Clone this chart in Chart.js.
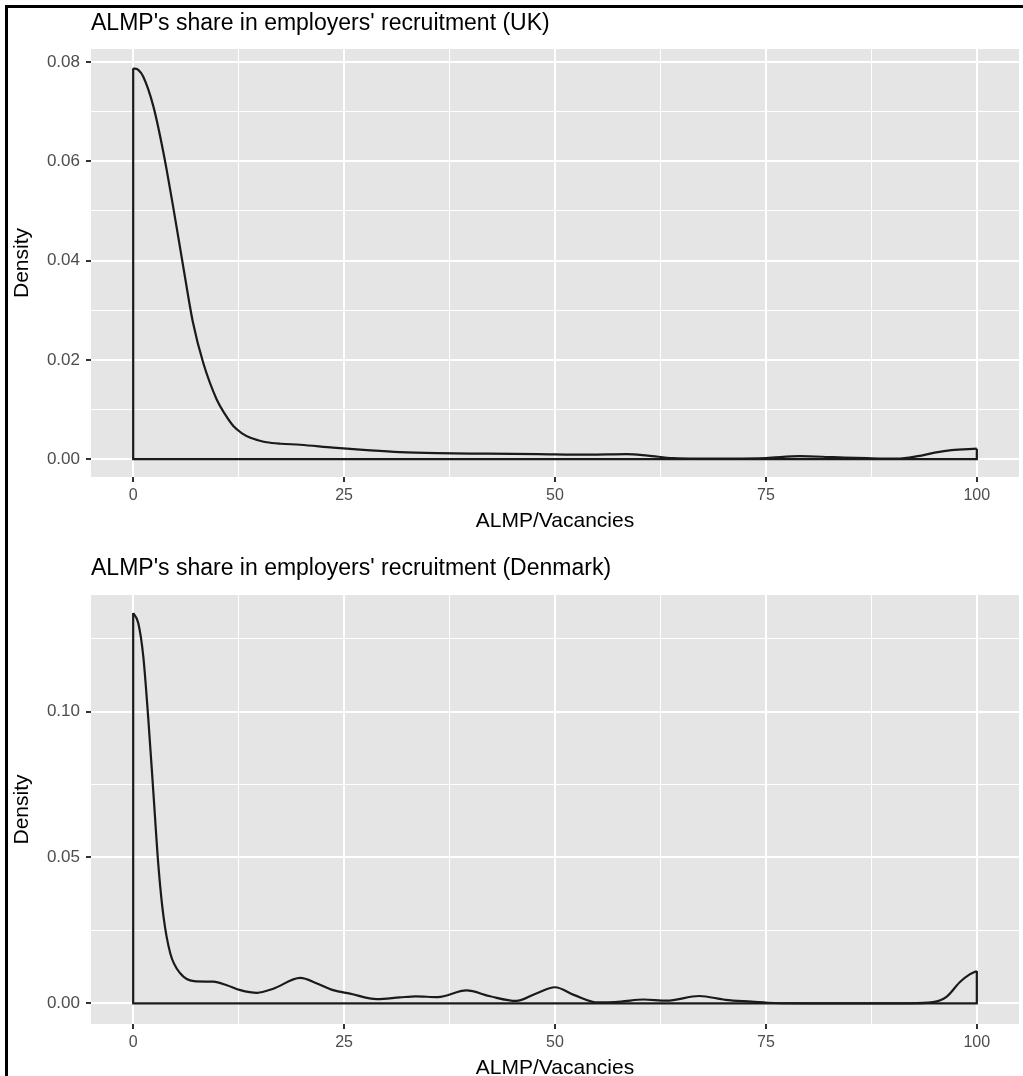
<!DOCTYPE html>
<html lang="en">
<head>
  <meta charset="UTF-8">
  <title>ALMP's share in employers' recruitment</title>
  <script src="https://cdn.jsdelivr.net/npm/chart.js"></script>
  <style>
    html, body { margin: 0; padding: 0; background: #fff; overflow: hidden; }
    body { width: 1023px; height: 1076px; position: relative; font-family: "Liberation Sans", Arial, sans-serif; }
    .frame { position: absolute; left: 5px; top: 5px; width: 1100px; height: 1100px;
             border-left: 3px solid #000; border-top: 3px solid #000; pointer-events: none; }
    .title { position: absolute; left: 91px; font-size: 23px; line-height: 23px; color: #000; white-space: nowrap; }
    .panel { position: absolute; left: 0; width: 1023px; }
  </style>
</head>
<body>
  <div class="panel" style="top: 0; height: 540px;"><canvas id="ukChart"></canvas></div>
  <div class="panel" style="top: 540px; height: 560px;"><canvas id="dkChart"></canvas></div>
  <div class="title" style="top: 11px;">ALMP's share in employers' recruitment (UK)</div>
  <div class="title" style="top: 556px;">ALMP's share in employers' recruitment (Denmark)</div>
  <div class="frame"></div>

  <script>
    // density estimates (x = ALMP/Vacancies)
    const ukX = [0, 0.6, 1.2, 2.4, 3.6, 4.8, 6.0, 7.1, 8.3, 9.9, 10.9, 11.9, 12.9, 13.9, 14.8, 15.8, 17.5, 19.8,
      23.7, 27.7, 31.6, 36, 42, 48, 54, 58.5, 61, 64, 67, 71, 75, 79, 83, 87, 90.5, 93, 95, 97, 100];
    const ukDensity = [0.0787, 0.0784, 0.0770, 0.0710, 0.0616, 0.0502, 0.0381, 0.0274, 0.0194, 0.0120, 0.0090,
      0.0066, 0.0052, 0.0043, 0.0038, 0.0034, 0.0031, 0.0029, 0.0023, 0.0018, 0.0014, 0.0012, 0.0011, 0.0010,
      0.0009, 0.0010, 0.0007, 0.0002, 0.0001, 0.0001, 0.0002, 0.0006, 0.0004, 0.0002, 0.0001, 0.0006, 0.0013,
      0.0018, 0.0021];

    const dkX = [0, 0.6, 1.2, 1.8, 2.4, 3.0, 3.6, 4.4, 5.6, 7.2, 9.5, 11.1, 12.7, 14.7, 16.6, 19.8, 21.8, 23.7,
      25.7, 28.9, 31.6, 33.5, 36.1, 39.5, 42.3, 45.4, 47.7, 50, 52.3, 55.1, 57.8, 60.5, 63.2, 67.1, 70.2, 73.3,
      76, 80, 86, 92, 94.8, 96.4, 98, 99.2, 100];
    const dkDensity = [0.1338, 0.1304, 0.1189, 0.0972, 0.0720, 0.0468, 0.0296, 0.0171, 0.0102, 0.0076, 0.0074,
      0.0062, 0.0045, 0.0036, 0.0050, 0.0087, 0.0068, 0.0045, 0.0033, 0.0014, 0.0020, 0.0024, 0.0021, 0.0044,
      0.0024, 0.0008, 0.0033, 0.0055, 0.0028, 0.0003, 0.0006, 0.0013, 0.0009, 0.0025, 0.0012, 0.0006, 0.0001,
      0, 0, 0, 0.0004, 0.0022, 0.0073, 0.0100, 0.0111];

    // axis ticks
    const xMajor = [0, 25, 50, 75, 100];
    const xMinor = [12.5, 37.5, 62.5, 87.5];
    const ukYMajor = [0, 0.02, 0.04, 0.06, 0.08];
    const ukYMinor = [0.01, 0.03, 0.05, 0.07];
    const dkYMajor = [0, 0.05, 0.10];
    const dkYMinor = [0.025, 0.075, 0.125];

    Chart.defaults.font.family = '"Liberation Sans", Arial, sans-serif';

    const isIn = (list, v) => list.some(m => Math.abs(m - v) < 1e-9);

    // grey ggplot panel behind the grid
    const panelBg = {
      id: 'panelBg',
      beforeDraw(chart) {
        const a = chart.chartArea;
        const ctx = chart.ctx;
        ctx.save();
        ctx.fillStyle = '#e5e5e5';
        ctx.fillRect(a.left, a.top, a.right - a.left, a.bottom - a.top);
        ctx.restore();
      }
    };

    function densityChart(id, xs, ys, yMajor, yMinor, yMin, yMax, opt) {
      const curve = xs.map((x, i) => ({ x: x, y: ys[i] }));
      const last = xs.length - 1;
      // closing outline of the density polygon (vertical sides + baseline)
      const outline = [
        { x: xs[0], y: ys[0] }, { x: xs[0], y: 0 },
        { x: xs[last], y: 0 }, { x: xs[last], y: ys[last] }
      ];
      const xTicks = xMajor.concat(xMinor).sort((a, b) => a - b);
      const yTicks = yMajor.concat(yMinor).sort((a, b) => a - b);

      return new Chart(document.getElementById(id), {
        type: 'line',
        data: {
          datasets: [
            { data: curve, borderColor: '#1a1a1a', borderWidth: 2.2, pointRadius: 0,
              cubicInterpolationMode: 'monotone', fill: false },
            { data: outline, borderColor: '#1a1a1a', borderWidth: 2.2, pointRadius: 0,
              tension: 0, fill: false, borderJoinStyle: 'miter' }
          ]
        },
        options: {
          responsive: true,
          maintainAspectRatio: false,
          animation: false,
          layout: { padding: { top: opt.top, right: 4, bottom: 0, left: 0 } },
          plugins: { legend: { display: false }, tooltip: { enabled: false }, title: { display: false } },
          scales: {
            x: {
              type: 'linear', min: -5, max: 105,
              afterBuildTicks: s => { s.ticks = xTicks.map(v => ({ value: v })); },
              afterFit: s => { s.height = opt.xHeight; },
              border: { display: false },
              grid: {
                color: '#ffffff',
                lineWidth: c => isIn(xMajor, c.tick.value) ? 2 : 1,
                tickColor: c => isIn(xMajor, c.tick.value) ? '#333333' : 'rgba(0,0,0,0)',
                tickWidth: 2, tickLength: 5
              },
              ticks: {
                autoSkip: false, maxRotation: 0, padding: 4, color: '#4d4d4d', font: { size: 16 },
                callback: v => isIn(xMajor, v) ? String(v) : ''
              },
              title: { display: true, text: 'ALMP/Vacancies', color: '#000', font: { size: 21 },
                padding: { top: 0, bottom: opt.titlePad } }
            },
            y: {
              type: 'linear', min: yMin, max: yMax,
              afterBuildTicks: s => { s.ticks = yTicks.map(v => ({ value: v })); },
              afterFit: s => { s.width = 91; },
              border: { display: false },
              grid: {
                color: '#ffffff',
                lineWidth: c => isIn(yMajor, c.tick.value) ? 2 : 1,
                tickColor: c => isIn(yMajor, c.tick.value) ? '#333333' : 'rgba(0,0,0,0)',
                tickWidth: 2, tickLength: 5
              },
              ticks: {
                autoSkip: false, padding: 6, color: '#4d4d4d', font: { size: 17 },
                callback: v => isIn(yMajor, v) ? v.toFixed(2) : ''
              },
              title: { display: true, text: 'Density', color: '#000', font: { size: 21 },
                padding: { top: 10, bottom: 0 } }
            }
          }
        },
        plugins: [panelBg]
      });
    }

    densityChart('ukChart', ukX, ukDensity, ukYMajor, ukYMinor, -0.0036, 0.0826,
      { top: 49, xHeight: 63, titlePad: 6 });
    densityChart('dkChart', dkX, dkDensity, dkYMajor, dkYMinor, -0.0071, 0.1400,
      { top: 55, xHeight: 76, titlePad: 19 });
  </script>
</body>
</html>
